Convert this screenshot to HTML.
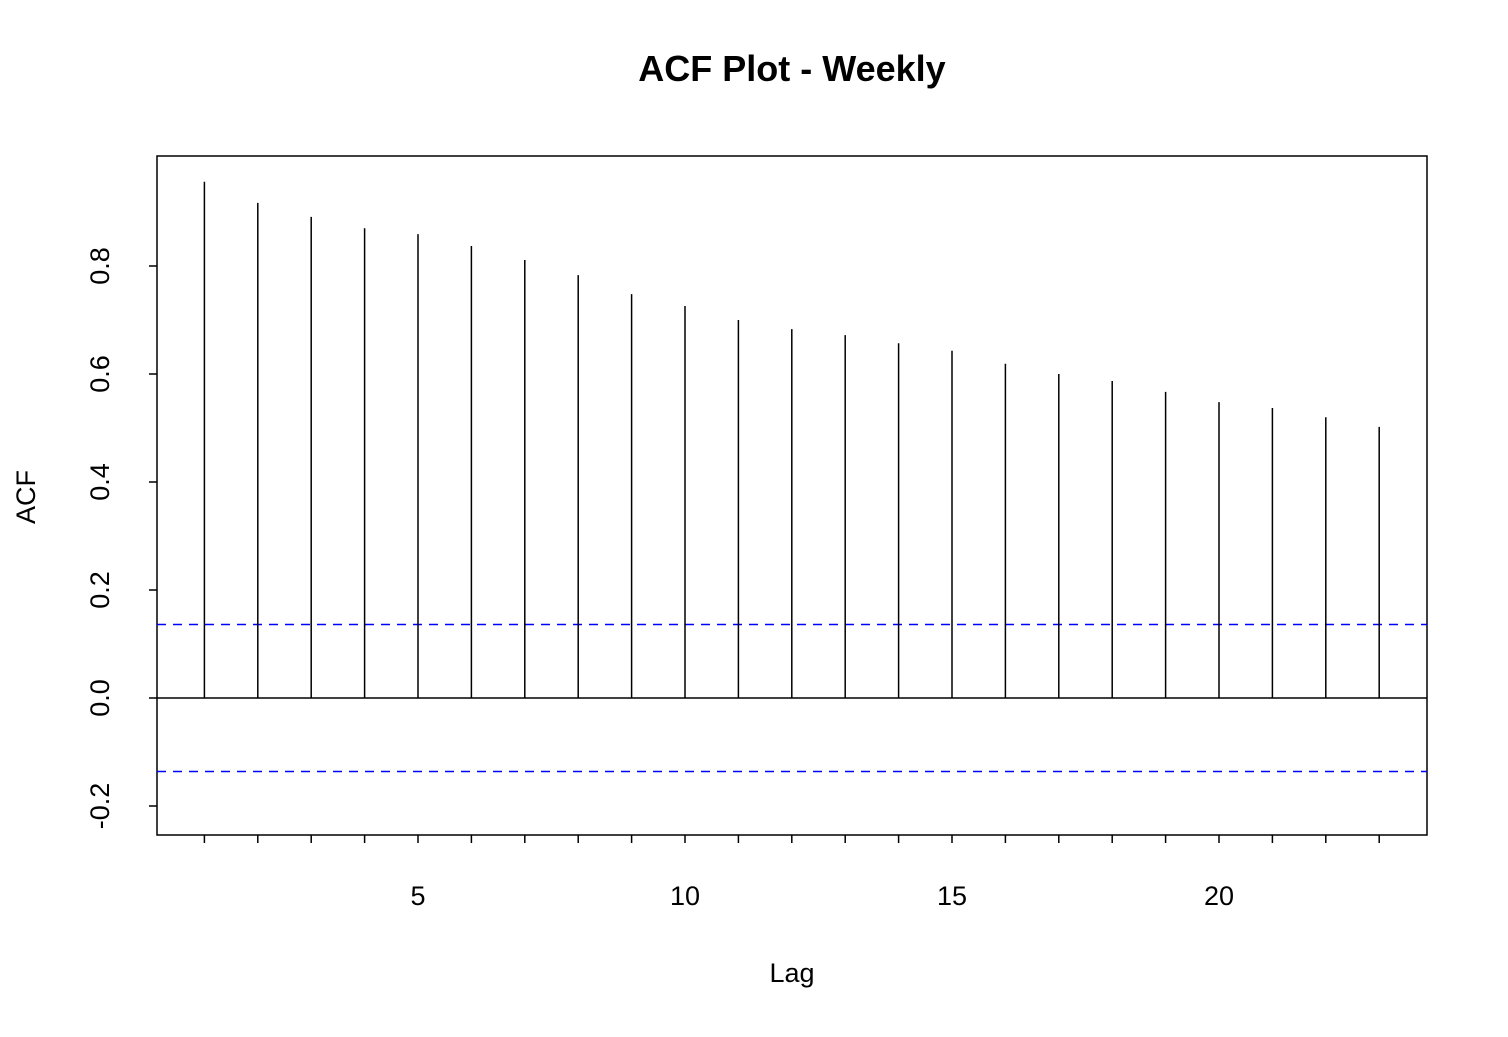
<!DOCTYPE html>
<html><head><meta charset="utf-8"><style>
html,body{margin:0;padding:0;background:#fff;}
svg text{font-family:"Liberation Sans",Arial,sans-serif;fill:#000;}
</style></head><body>
<svg id="chart" width="1508" height="1032" xmlns="http://www.w3.org/2000/svg">
<text x="792" y="81" font-size="36" font-weight="bold" text-anchor="middle">ACF Plot - Weekly</text>
<text x="792" y="982" font-size="27" text-anchor="middle">Lag</text>
<text transform="translate(35,497) rotate(-90)" font-size="27" text-anchor="middle">ACF</text>
<rect x="157" y="156" width="1270" height="679" fill="none" stroke="#000" stroke-width="1.5"/>
<g id="marks"></g>
</svg>
<script>
const lags=[1,2,3,4,5,6,7,8,9,10,11,12,13,14,15,16,17,18,19,20,21,22,23];
const acfValues=[0.956,0.917,0.891,0.870,0.859,0.837,0.811,0.783,0.748,0.726,0.700,0.683,0.672,0.657,0.643,0.619,0.600,0.587,0.567,0.548,0.537,0.520,0.502];
const xTickLabels=[5,10,15,20];
const yTickLabels=[-0.2,0.0,0.2,0.4,0.6,0.8];
const confBound=0.136;
const NS="http://www.w3.org/2000/svg";
function xs(v){return 418+(v-5)*53.4;}
function ys(v){return 698-v*540;}
const g=document.getElementById('marks');
function mk(tag,attrs){const e=document.createElementNS(NS,tag);for(const k in attrs)e.setAttribute(k,attrs[k]);g.appendChild(e);return e;}
let z=mk('line',{x1:157,x2:1427,y1:ys(0),y2:ys(0),stroke:'#000','stroke-width':1.5});


[confBound,-confBound].forEach((c,i)=>{
 const l=mk('line',{x1:157,x2:1427,y1:ys(c),y2:ys(c),stroke:'#0000ff','stroke-width':1.5,'stroke-dasharray':'9,7'});
 
 
});
lags.forEach((lag,i)=>{
 const b=mk('line',{x1:xs(lag),x2:xs(lag),y1:ys(0),y2:ys(acfValues[i]),stroke:'#000','stroke-width':1.5});
 
 
 const t=mk('line',{x1:xs(lag),x2:xs(lag),y1:835,y2:843,stroke:'#000','stroke-width':1.5});
 
 
});
xTickLabels.forEach(v=>{
 const t=mk('text',{x:xs(v),y:905,'font-size':27,'text-anchor':'middle'});
 t.textContent=v;
 
 
});
yTickLabels.forEach(v=>{
 const y=ys(v);
 const t=mk('line',{x1:149,x2:157,y1:y,y2:y,stroke:'#000','stroke-width':1.5});
 
 
 const l=mk('text',{transform:'translate(109,'+y+') rotate(-90)','font-size':27,'text-anchor':'middle'});
 l.textContent=v.toFixed(1);
 
 
});
</script>
</body></html>
